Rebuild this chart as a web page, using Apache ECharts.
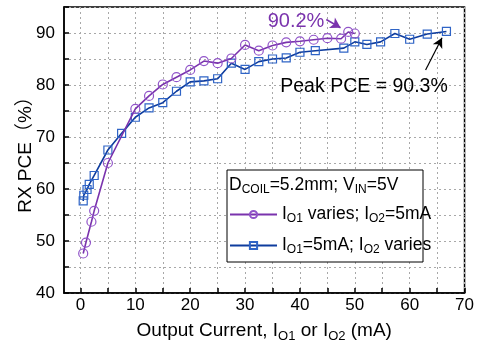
<!DOCTYPE html>
<html>
<head>
<meta charset="utf-8">
<script src="https://cdn.jsdelivr.net/npm/echarts@6/dist/echarts.min.js"></script>
<style>html,body{margin:0;padding:0;background:#fff}#c{width:477px;height:353px}</style>
</head>
<body>
<div id="c"></div>
<script>
// Data: series 1 (IO1 varies; IO2 = 5mA)
const io1X = [0.5, 1.0, 2.0, 2.5, 5.0, 10.0, 12.5, 15.0, 17.5, 20.0, 22.5, 25.0, 27.5, 30.0, 32.5, 35.0, 37.5, 40.0, 42.5, 45.0, 47.5, 48.8, 50.0];
const io1Y = [47.6, 49.7, 53.7, 55.8, 65.0, 75.4, 77.9, 80.1, 81.5, 82.9, 84.6, 84.2, 85.1, 87.7, 86.6, 87.6, 88.2, 88.4, 88.7, 89.0, 88.9, 90.2, 89.9];
// Data: series 2 (IO1 = 5mA; IO2 varies)
const io2X = [0.5, 0.6, 1.2, 1.6, 2.5, 5.0, 7.5, 10.0, 12.5, 15.0, 17.5, 20.0, 22.5, 25.0, 27.5, 30.0, 32.5, 35.0, 37.5, 40.0, 42.8, 48.0, 50.0, 52.2, 54.7, 57.3, 60.0, 63.2, 66.7];
const io2Y = [57.7, 58.8, 59.9, 60.9, 62.6, 67.5, 70.7, 73.8, 75.6, 76.6, 78.8, 80.6, 80.8, 81.2, 84.2, 83.0, 84.5, 85.0, 85.2, 86.3, 86.6, 87.1, 88.3, 87.8, 88.3, 89.9, 88.8, 89.8, 90.3];
// Axis ticks
const xTicks = [0, 5, 10, 15, 20, 25, 30, 35, 40, 45, 50, 55, 60, 65, 70];
const xLabels = [0, 10, 20, 30, 40, 50, 60, 70];
const yLabels = [40, 50, 60, 70, 80, 90];

const FONT = 'Liberation Sans, Arial, Noto Sans CJK SC, sans-serif';
const purpleLine = '#7a33ad', purpleMark = '#9154c9';
const blueLine = '#0e3c9e', blueMark = '#2f64c6';

const chart = echarts.init(document.getElementById('c'), null, {renderer: 'canvas'});
const zip = (xs, ys) => xs.map((x, i) => [x, ys[i]]);

const richAxis = {
  n: {fontSize: 19, fontFamily: FONT, color: '#000', lineHeight: 22},
  s: {fontSize: 13, fontFamily: FONT, color: '#000', lineHeight: 14, padding: [10, 0, 0, 0]}
};
const richLegend = {
  n: {fontSize: 17.5, fontFamily: FONT, color: '#000', lineHeight: 20},
  s: {fontSize: 12, fontFamily: FONT, color: '#000', lineHeight: 13, padding: [9, 0, 0, 0]}
};

chart.setOption({
  animation: false,
  textStyle: {fontFamily: FONT},
  grid: {left: 64, right: 10, top: 7, bottom: 60, show: true, borderColor: '#000', borderWidth: 1.5, backgroundColor: 'transparent'},
  xAxis: {
    type: 'value', min: -3, max: 70,
    axisLine: {show: true, onZero: false, lineStyle: {color: '#000', width: 1.5}},
    axisTick: {show: true, inside: true, length: 5, customValues: xTicks, lineStyle: {color: '#000', width: 1.5}},
    axisLabel: {customValues: xLabels, fontSize: 17, color: '#000', margin: 4, fontFamily: FONT},
    splitLine: {show: true, lineStyle: {color: '#a8a8a8', type: [2, 3], width: 1}},
    name: '{n|Output Current, I}{s|O1}{n| or I}{s|O2}{n| (mA)}',
    nameLocation: 'middle', nameGap: 27, nameMoveOverlap: false,
    nameTextStyle: {rich: richAxis}
  },
  yAxis: {
    type: 'value', min: 40, max: 95, interval: 5,
    axisLine: {show: true, onZero: false, lineStyle: {color: '#000', width: 1.5}},
    axisTick: {show: true, inside: true, length: 5, lineStyle: {color: '#000', width: 1.5}},
    axisLabel: {fontSize: 17, color: '#000', margin: 9, fontFamily: FONT,
      formatter: v => yLabels.indexOf(v) >= 0 ? String(v) : ''},
    splitLine: {show: true, lineStyle: {color: '#a8a8a8', type: [2, 3], width: 1}},
    name: 'RX PCE（%）', nameLocation: 'middle', nameGap: 29, nameMoveOverlap: false,
    nameTextStyle: {fontSize: 19, color: '#000', fontFamily: FONT}
  },
  legend: {
    orient: 'vertical', left: 229, top: 204, z: 20, padding: 0,
    itemWidth: 47, itemHeight: 9, itemGap: 10,
    data: ['s1', 's2'],
    formatter: name => name === 's1'
      ? '{n|I}{s|O1}{n| varies; I}{s|O2}{n|=5mA}'
      : '{n|I}{s|O1}{n|=5mA; I}{s|O2}{n| varies}',
    textStyle: {rich: richLegend}
  },
  graphic: [
    {type: 'rect', z: 5, shape: {x: 227, y: 170, width: 196, height: 92}, style: {fill: '#fff', stroke: '#000', lineWidth: 1}},
    {type: 'text', z: 21, x: 229, y: 175, style: {
      text: '{n|D}{s|COIL}{n|=5.2mm; V}{s|IN}{n|=5V}', rich: richLegend}},
    {type: 'text', z: 21, x: 296, y: 21, style: {text: '90.2%', fontSize: 20, fontFamily: FONT, fill: purpleLine, align: 'center', verticalAlign: 'middle'}},
    {type: 'text', z: 21, x: 364, y: 87, style: {text: 'Peak PCE = 90.3%', fontSize: 19.5, fontFamily: FONT, fill: '#000', align: 'center', verticalAlign: 'middle'}}
  ],
  series: [
    {
      name: 's1', type: 'line', data: zip(io1X, io1Y), z: 3,
      symbol: 'circle', symbolSize: 9,
      lineStyle: {color: purpleLine, width: 1.6},
      itemStyle: {color: 'rgba(255,255,255,0)', borderColor: purpleMark, borderWidth: 1.2},
      markLine: {
        silent: true, symbol: ['none', 'arrow'], symbolSize: [9, 10],
        lineStyle: {color: purpleLine, width: 1.6, type: 'solid'},
        label: {show: false},
        data: [[{coord: [44.8, 92.6]}, {coord: [47.4, 91.0]}]]
      }
    },
    {
      name: 's2', type: 'line', data: zip(io2X, io2Y), z: 2,
      symbol: 'rect', symbolSize: 8,
      lineStyle: {color: blueLine, width: 1.6},
      itemStyle: {color: 'rgba(255,255,255,0)', borderColor: blueMark, borderWidth: 1.2},
      markLine: {
        silent: true, symbol: ['none', 'arrow'], symbolSize: [8, 10],
        lineStyle: {color: '#000', width: 1.2, type: 'solid'},
        label: {show: false},
        data: [[{coord: [62.9, 82.9]}, {coord: [65.9, 89.1]}]]
      }
    }
  ]
});
</script>
</body>
</html>
